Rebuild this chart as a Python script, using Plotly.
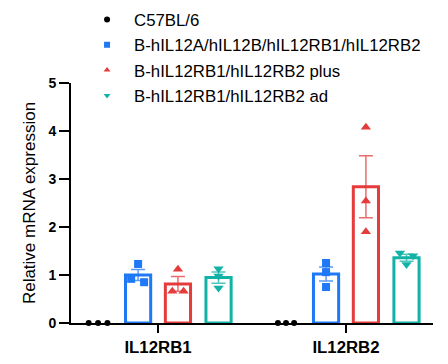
import numpy as np
import plotly.graph_objects as go

# ---- data ----
categories = ["IL12RB1", "IL12RB2"]
series_names = [
    "C57BL/6",
    "B-hIL12A/hIL12B/hIL12RB1/hIL12RB2",
    "B-hIL12RB1/hIL12RB2 plus",
    "B-hIL12RB1/hIL12RB2 ad",
]
# individual replicate values per series, per category
c57_vals = [[0.0, 0.0, 0.0], [0.0, 0.0, 0.0]]
hIL12A_vals = [[1.23, 0.92, 0.85], [1.25, 1.06, 0.75]]
plus_vals = [[1.12, 0.66, 0.66], [4.08, 2.54, 1.90]]
ad_vals = [[1.13, 0.98, 0.73], [1.46, 1.40, 1.22]]
y_ticks = [0, 1, 2, 3, 4, 5]

# ---- style ----
colors = ["#000000", "#1f78f5", "#e53b3b", "#12b3a6"]
err_colors = ["rgba(0,0,0,0.6)", "rgba(31,120,245,0.75)", "rgba(229,59,59,0.75)", "rgba(18,179,166,0.75)"]
symbols = ["circle", "square", "triangle-up", "triangle-down"]
sizes = [6, 8, 9, 9]
offsets = [-0.319, -0.106, 0.106, 0.322]
bar_width = 0.134
# horizontal spread of replicate points (per series, per category)
spread = [
    [[-0.05, 0.0, 0.05], [-0.043, 0.0, 0.043]],
    [[0.0, -0.037, 0.032], [0.0, 0.0, 0.0]],
    [[0.0, -0.03, 0.03], [0.0, 0.0, 0.0]],
    [[0.0, 0.0, 0.0], [-0.035, 0.035, 0.0]],
]

all_vals = [c57_vals, hIL12A_vals, plus_vals, ad_vals]
FONT = "Liberation Sans, Arial, sans-serif"

fig = go.Figure()

# bars with SEM error bars
for s, vals in enumerate(all_vals):
    xs, means, sems = [], [], []
    for g, v in enumerate(vals):
        arr = np.array(v)
        xs.append(g + offsets[s])
        means.append(arr.mean())
        sems.append(arr.std(ddof=1) / np.sqrt(len(arr)))
    if s == 0:
        continue
    fig.add_trace(go.Bar(
        x=xs, y=means, width=bar_width,
        marker=dict(color="rgba(255,255,255,0)", line=dict(color=colors[s], width=3)),
        error_y=dict(type="data", array=sems, visible=True, color=err_colors[s],
                     thickness=1.5, width=7),
        showlegend=False, hoverinfo="skip",
    ))

# replicate points
for s, vals in enumerate(all_vals):
    px, py = [], []
    for g, v in enumerate(vals):
        for i, val in enumerate(v):
            px.append(g + offsets[s] + spread[s][g][i])
            py.append(val)
    fig.add_trace(go.Scatter(
        x=px, y=py, mode="markers",
        marker=dict(symbol=symbols[s], size=sizes[s], color=colors[s]),
        showlegend=False, cliponaxis=False,
    ))

# legend entries
for s, name in enumerate(series_names):
    fig.add_trace(go.Scatter(
        x=[None], y=[None], mode="markers", name=name, legendgroup=name,
        marker=dict(symbol=symbols[s], size=6, color=colors[s]),
    ))

fig.update_layout(
    width=448, height=364,
    margin=dict(l=71, r=15, t=83, b=41, autoexpand=False),
    paper_bgcolor="white", plot_bgcolor="white",
    barmode="overlay",
    font=dict(family=FONT, color="#000000"),
    legend=dict(
        x=0.025, y=1.3375, xanchor="left", yanchor="top",
        font=dict(size=16.8, family=FONT),
        itemwidth=44, tracegroupgap=0.5, bgcolor="rgba(0,0,0,0)",
    ),
    xaxis=dict(
        range=[-0.463, 1.463], tickmode="array", tickvals=[0, 1], ticktext=categories,
        showline=True, linecolor="black", linewidth=2,
        ticks="outside", ticklen=8, tickwidth=2, tickcolor="black",
        tickfont=dict(size=16.8, family=FONT, weight="bold"),
        showgrid=False, zeroline=False,
    ),
    yaxis=dict(
        range=[0, 5], tickmode="array", tickvals=y_ticks,
        showline=True, linecolor="black", linewidth=2,
        ticks="outside", ticklen=10, tickwidth=2, tickcolor="black",
        tickfont=dict(size=14, family=FONT, weight="bold"),
        title=dict(text="Relative mRNA expression", font=dict(size=17, family=FONT), standoff=8),
        showgrid=False, zeroline=False,
    ),
)

fig.write_html("out.html", config={"displayModeBar": False},
               post_script="document.body.style.margin='0';")
